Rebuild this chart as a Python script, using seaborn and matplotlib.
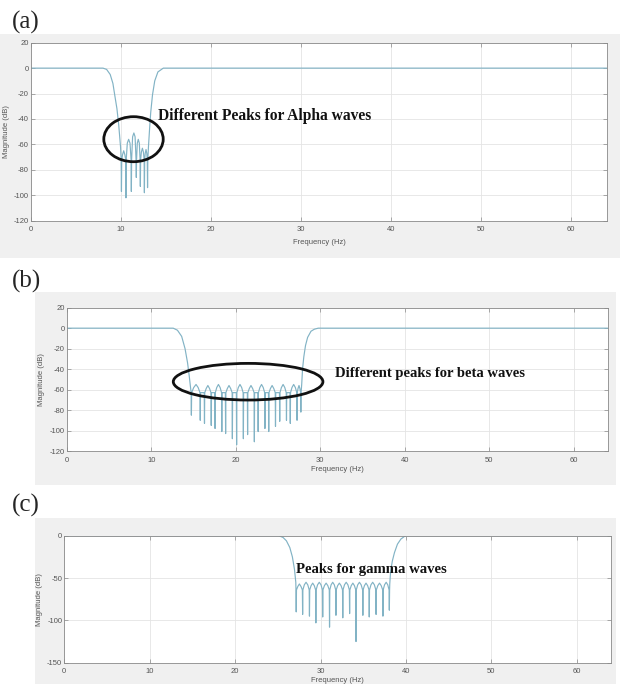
import numpy as np
import pandas as pd
import seaborn as sns
import matplotlib.pyplot as plt
from matplotlib.patches import Ellipse, Rectangle

# ---- panel (a): alpha band-stop ----
a_lo_hz = [0, 8.0, 8.4, 8.8, 9.1, 9.3, 9.55, 9.75, 9.95]
a_lo_db = [0, 0, -1, -5, -12, -21, -32, -45, -62]
a_null_hz = [10.05, 10.55, 11.15, 11.7, 12.15, 12.6, 12.95]
a_null_db = [-97, -102, -97, -86, -93, -98, -94]
a_lobe_hz = [10.3, 10.85, 11.43, 11.92, 12.38, 12.78]
a_lobe_db = [-65, -56, -51, -56, -63, -64]
a_hi_hz = [13.05, 13.2, 13.3, 13.5, 13.75, 14.1, 14.7, 64]
a_hi_db = [-62, -45, -35, -21, -10, -3, 0, 0]

# ---- panel (b): beta band-stop ----
b_lo_hz = [0, 12.6, 13.1, 13.6, 14.0, 14.3, 14.5, 14.65]
b_lo_db = [0, 0, -2, -8, -20, -34, -47, -58]
b_null_hz = [14.75, 15.8, 16.3, 17.1, 17.55, 18.35, 18.8, 19.6, 20.1, 20.9, 21.4,
             22.2, 22.65, 23.45, 23.9, 24.7, 25.2, 26.0, 26.45, 27.25, 27.7]
b_null_db = [-85, -90, -93, -95, -98, -101, -103, -108, -114, -108, -104,
             -111, -101, -98, -101, -96, -91, -90, -93, -90, -82]
b_lobe_hz = [15.3, 16.7, 17.95, 19.2, 20.5, 21.8, 23.05, 24.3, 25.6, 26.85, 27.48]
b_lobe_db = [-55, -56, -55, -56, -55, -56, -55, -56, -55, -55, -56]
b_hi_hz = [27.8, 27.9, 28.05, 28.25, 28.5, 28.9, 29.3, 29.75, 64]
b_hi_db = [-55, -40, -28, -17, -9, -3, -1, 0, 0]

# ---- panel (c): gamma band-stop ----
c_lo_hz = [0, 25.1, 25.6, 26.0, 26.4, 26.7, 26.95, 27.1]
c_lo_db = [0, 0, -2, -6, -14, -25, -40, -55]
c_null_hz = [27.15, 27.9, 28.7, 29.45, 30.25, 31.05, 31.8, 32.6, 33.4, 34.15,
             34.95, 35.7, 36.5, 37.3, 38.05]
c_null_db = [-90, -93, -95, -103, -96, -108, -94, -97, -92, -125,
             -94, -96, -93, -95, -88]
c_lobe_hz = [27.52, 28.3, 29.08, 29.85, 30.65, 31.42, 32.2, 33.0, 33.78, 34.55,
             35.32, 36.1, 36.9, 37.68]
c_lobe_db = [-57, -55, -56, -55, -56, -55, -56, -55, -56, -55, -56, -55, -56, -55]
c_hi_hz = [38.1, 38.2, 38.4, 38.65, 39.0, 39.4, 39.8, 40.1, 64]
c_hi_db = [-57, -42, -30, -20, -10, -4, -1, 0, 0]

xticks = [0, 10, 20, 30, 40, 50, 60]
ab_yticks = [20, 0, -20, -40, -60, -80, -100, -120]
c_yticks = [0, -50, -100, -150]

line_color = "#82b3c5"


def build_curve(lo_hz, lo_db, null_hz, null_db, lobe_hz, lobe_db, floor_db, hi_hz, hi_db):
    pts = list(zip(lo_hz, lo_db)) + list(zip(hi_hz, hi_db))
    w = 0.03
    for f, d in zip(null_hz, null_db):
        pts += [(f - w, floor_db), (f, d), (f + w, floor_db)]
    nulls = np.array(null_hz)
    for c, p in zip(lobe_hz, lobe_db):
        left = nulls[nulls < c].max()
        right = nulls[nulls > c].min()
        pts += [(c - 0.5 * (c - left), p - 3), (c, p), (c + 0.5 * (right - c), p - 3)]
    pts.sort(key=lambda t: t[0])
    return pd.DataFrame(pts, columns=["Frequency (Hz)", "Magnitude (dB)"])


sns.set_theme(style="white")
plt.rcParams["font.family"] = ["Liberation Sans", "DejaVu Sans"]
plt.rcParams["axes.unicode_minus"] = False

fig = plt.figure(figsize=(6.2, 6.84), dpi=100)
W, H = 620, 684

# grey figure panels behind each plot
for x0, y0, x1, y1 in [(0, 34, 620, 258), (35, 292, 616, 485), (35, 518, 616, 684)]:
    fig.add_artist(Rectangle((x0 / W, 1 - y1 / H), (x1 - x0) / W, (y1 - y0) / H,
                             transform=fig.transFigure, facecolor="#f0f0f0",
                             edgecolor="none", zorder=-1))

panels = [
    dict(box=(31, 42.7, 607, 220.7), label="(a)", lab_xy=(12, 29), xlabpad=4,
         curve=build_curve(a_lo_hz, a_lo_db, a_null_hz, a_null_db, a_lobe_hz, a_lobe_db, -72, a_hi_hz, a_hi_db),
         yticks=ab_yticks, ylim=(-120, 20),
         text="Different Peaks for Alpha waves", text_size=11.2, text_xy=(14.1, -38),
         ellipse=((11.39, -55.9), 6.6, 35.4)),
    dict(box=(66.7, 307.7, 607.7, 451), label="(b)", lab_xy=(12, 288), xlabpad=2,
         curve=build_curve(b_lo_hz, b_lo_db, b_null_hz, b_null_db, b_lobe_hz, b_lobe_db, -63, b_hi_hz, b_hi_db),
         yticks=ab_yticks, ylim=(-120, 20),
         text="Different peaks for beta waves", text_size=10.5, text_xy=(31.75, -44),
         ellipse=((21.46, -52.3), 17.7, 35.8)),
    dict(box=(64.3, 535.7, 611, 662.7), label="(c)", lab_xy=(12, 512), xlabpad=1.5,
         curve=build_curve(c_lo_hz, c_lo_db, c_null_hz, c_null_db, c_lobe_hz, c_lobe_db, -64, c_hi_hz, c_hi_db),
         yticks=c_yticks, ylim=(-150, 0),
         text="Peaks for gamma waves", text_size=10.6, text_xy=(27.1, -40.5),
         ellipse=None),
]

for p in panels:
    x0, y0, x1, y1 = p["box"]
    ax = fig.add_axes([x0 / W, 1 - y1 / H, (x1 - x0) / W, (y1 - y0) / H])
    ax.set_facecolor("white")
    sns.lineplot(data=p["curve"], x="Frequency (Hz)", y="Magnitude (dB)", ax=ax,
                 color=line_color, lw=0.85, estimator=None, sort=False)
    ax.set_xlim(0, 64)
    ax.set_ylim(*p["ylim"])
    ax.set_xticks(xticks)
    ax.set_yticks(p["yticks"])
    ax.grid(True, color="#e4e4e4", lw=0.6)
    ax.tick_params(direction="in", length=3, width=0.5, colors="#8a8a8a",
                   labelcolor="#555555", labelsize=5.5,
                   top=True, right=True, bottom=True, left=True)
    ax.tick_params(axis="x", pad=4)
    ax.tick_params(axis="y", pad=1.5)
    for s in ax.spines.values():
        s.set_color("#8a8a8a")
        s.set_linewidth(0.6)
    ax.set_xlabel("Frequency (Hz)", fontsize=5.5, color="#555555", labelpad=p["xlabpad"])
    ax.set_ylabel("Magnitude (dB)", fontsize=5.5, color="#555555", labelpad=3)
    ax.text(*p["text_xy"], p["text"], fontsize=p["text_size"], fontweight="bold",
            family=["Liberation Serif", "DejaVu Serif"], va="center", ha="left", color="#111111")
    if p["ellipse"] is not None:
        (cx, cy), ew, eh = p["ellipse"]
        ax.add_patch(Ellipse((cx, cy), ew, eh, fill=False, edgecolor="#111111", lw=2.0, zorder=5))
    lx, ly = p["lab_xy"]
    fig.text(lx / W, 1 - ly / H, p["label"], fontsize=18,
             family=["Liberation Serif", "DejaVu Serif"], va="baseline", ha="left")

fig.savefig("out.png", dpi=100)
